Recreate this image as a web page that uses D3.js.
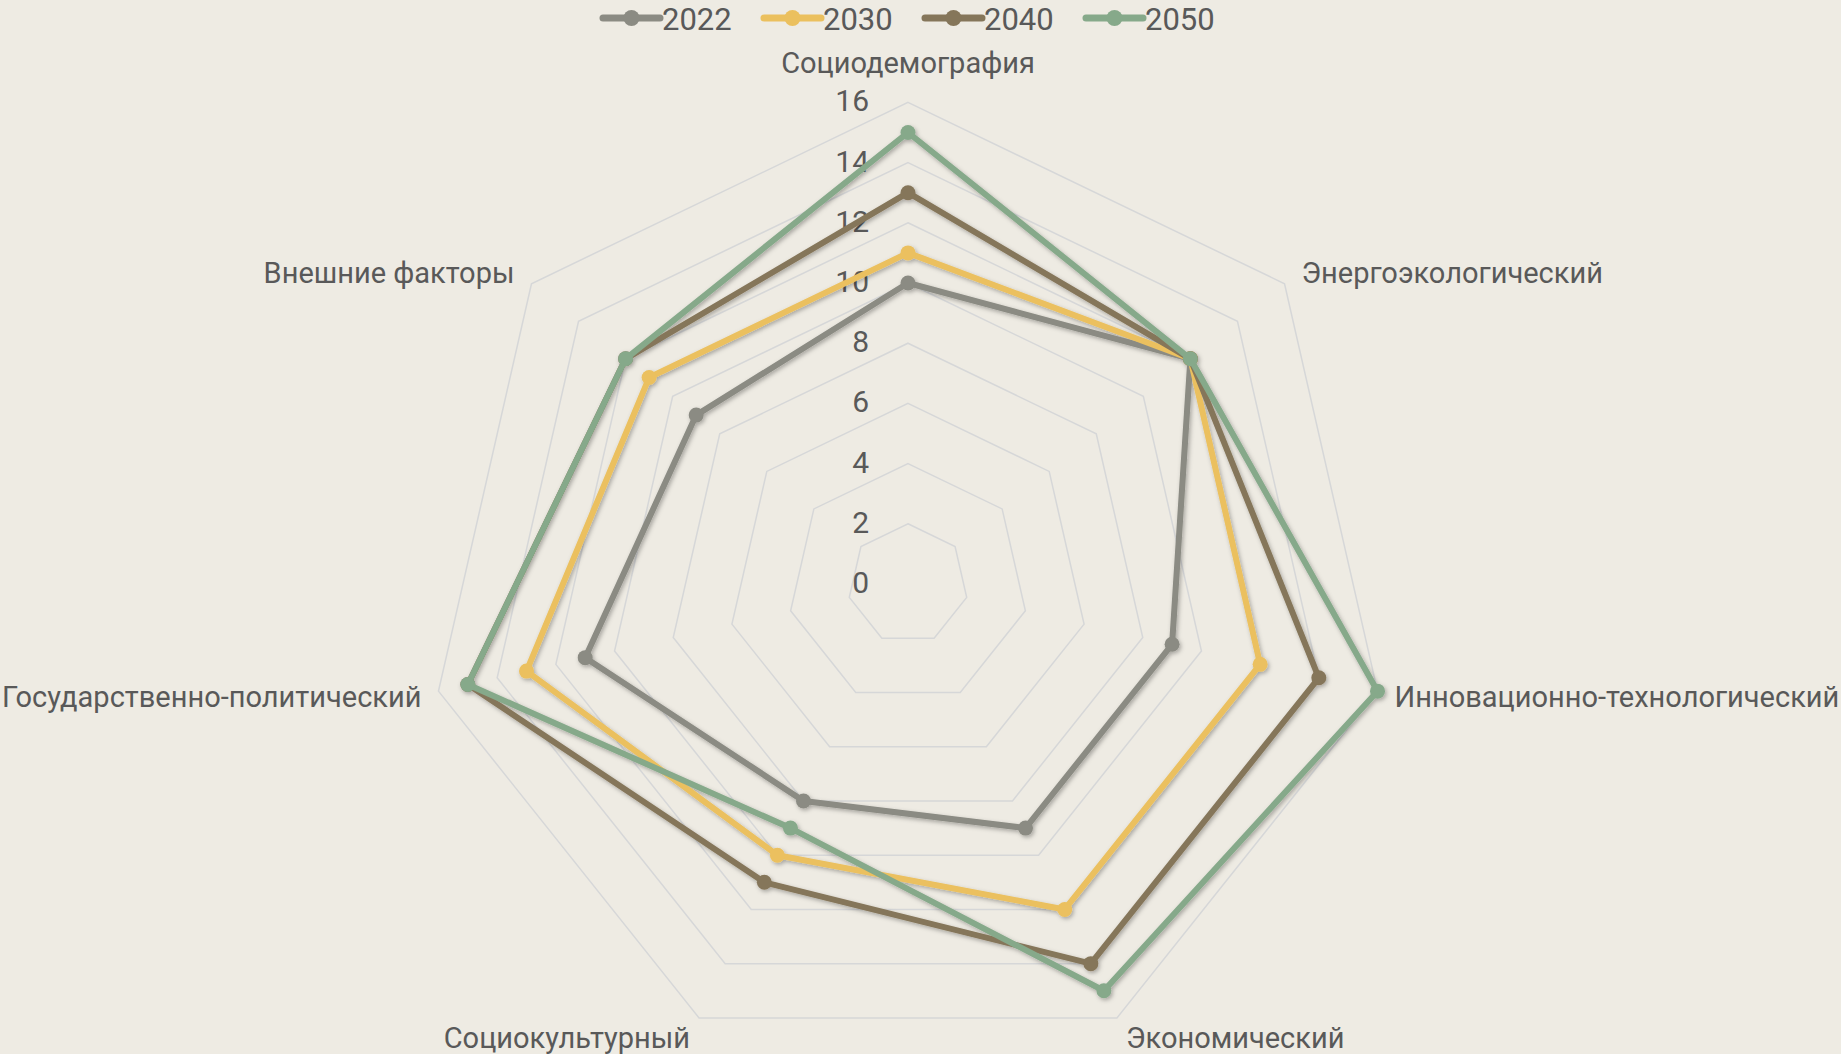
<!DOCTYPE html>
<html>
<head>
<meta charset="utf-8">
<script src="https://cdn.jsdelivr.net/npm/d3@7"></script>
<style>
  html, body { margin: 0; padding: 0; background: #eeebe3; }
  svg { display: block; }
  text { font-family: Roboto, "Liberation Sans", sans-serif; fill: #595959; }
</style>
</head>
<body>
<svg id="chart" width="1841" height="1054"></svg>
<script>
const categories = [
  "Социодемография",
  "Энергоэкологический",
  "Инновационно-технологический",
  "Экономический",
  "Социокультурный",
  "Государственно-политический",
  "Внешние факторы"
];
const years = ["2022", "2030", "2040", "2050"];
const values2022 = [10, 12, 9, 9, 8, 11, 9];
const values2030 = [11, 12, 12, 12, 10, 13, 11];
const values2040 = [13, 12, 14, 14, 11, 15, 12];
const values2050 = [15, 12, 16, 15, 9, 15, 12];
const tickValues = [0, 2, 4, 6, 8, 10, 12, 14, 16];
const colors = ["#8b8b83", "#ebc05e", "#85765a", "#86a98a"];

const series = [values2022, values2030, values2040, values2050];

const svg = d3.select("#chart");
const cx = 908, cy = 584;

const r = d3.scaleLinear().domain([0, 16]).range([0, 481.6]);
const angle = d3.scaleLinear().domain([0, categories.length]).range([0, 2 * Math.PI]);

// point on axis i at value v
function pt(i, v) {
  const a = angle(i);
  return [cx + Math.sin(a) * r(v), cy - Math.cos(a) * r(v)];
}

const defs = svg.append("defs");
const shadow = defs.append("filter").attr("id", "shadow")
  .attr("x", "-20%").attr("y", "-20%").attr("width", "140%").attr("height", "140%");
shadow.append("feDropShadow")
  .attr("dx", 1.5).attr("dy", 2).attr("stdDeviation", 2)
  .attr("flood-color", "#000").attr("flood-opacity", 0.3);

// grid rings
const grid = svg.append("g");
tickValues.filter(d => d > 0).forEach(t => {
  grid.append("polygon")
    .attr("points", categories.map((c, i) => pt(i, t).join(",")).join(" "))
    .attr("fill", "none")
    .attr("stroke", "#d6d7d8")
    .attr("stroke-width", 1.5);
});

// tick labels
svg.append("g").selectAll("text")
  .data(tickValues)
  .join("text")
  .attr("x", 869)
  .attr("y", d => cy - r(d) + 1)
  .attr("text-anchor", "end")
  .attr("dominant-baseline", "middle")
  .style("font-size", "30px")
  .text(d => d);

// category labels
svg.append("g").selectAll("text")
  .data(categories)
  .join("text")
  .each(function (d, i) {
    const a = angle(i);
    const [x, y] = pt(i, 16);
    const s = Math.sin(a), c = Math.cos(a);
    const t = d3.select(this);
    if (Math.abs(s) < 0.1) {
      t.attr("x", x).attr("y", y - 37).attr("text-anchor", "middle");
    } else {
      const dx = s > 0 ? 17 : -17;
      t.attr("x", x + dx + (Math.abs(c) > 0.8 ? -8 * Math.sign(dx) : 0))
        .attr("y", y - c * 20 + 4)
        .attr("text-anchor", s > 0 ? "start" : "end");
    }
  })
  .attr("dominant-baseline", "middle")
  .style("font-size", "29px")
  .text(d => d);

// series
const line = d3.line().curve(d3.curveLinearClosed);
const seriesG = svg.append("g").attr("filter", "url(#shadow)");
series.forEach((vals, k) => {
  const g = seriesG.append("g");
  g.append("path")
    .attr("d", line(vals.map((v, i) => pt(i, v))))
    .attr("fill", "none")
    .attr("stroke", colors[k])
    .attr("stroke-width", 6)
    .attr("stroke-linejoin", "round");
  g.selectAll("circle")
    .data(vals)
    .join("circle")
    .attr("cx", (v, i) => pt(i, v)[0])
    .attr("cy", (v, i) => pt(i, v)[1])
    .attr("r", 7.5)
    .attr("fill", colors[k]);
});

// legend
const legend = svg.append("g");
const legendX = d3.scaleLinear().domain([0, 1]).range([603, 764]);
years.forEach((y, k) => {
  const x0 = legendX(k);
  const g = legend.append("g").attr("transform", `translate(${x0},18)`);
  g.append("line")
    .attr("x1", 0).attr("x2", 57)
    .attr("stroke", colors[k]).attr("stroke-width", 7)
    .attr("stroke-linecap", "round");
  g.append("circle").attr("cx", 28.5).attr("r", 8).attr("fill", colors[k]);
  g.append("text")
    .attr("x", 59).attr("y", 12)
    .style("font-size", "31px")
    .text(y);
});
</script>
</body>
</html>
